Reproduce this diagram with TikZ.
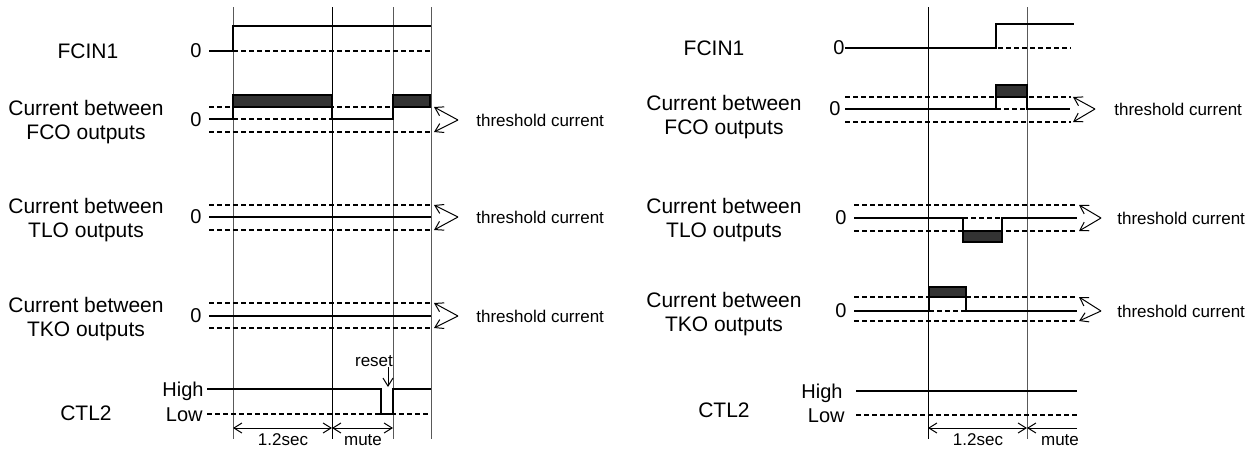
\documentclass[tikz,border=0pt]{standalone}
\usepackage{fontspec}
\setmainfont{Liberation Sans}
\usetikzlibrary{arrows.meta,positioning,calc}

\begin{document}
\begin{tikzpicture}[x=0.5pt, y=-0.5pt, >={Straight Barb[length=4pt,width=5pt]}]
    \tikzset{
        sig/.style={line width=1pt},
        ref/.style={line width=0.9pt, dash pattern=on 2.5pt off 1.5pt},
        grd/.style={line width=0.5pt, black!65},
        grdk/.style={line width=0.5pt},
        blk/.style={draw, line width=1pt, fill=black!80},
        a/.style={->, line width=0.5pt},
        dim/.style={<->, line width=0.5pt},
        lbl/.style={align=center, font={\fontsize{10.5}{12}\selectfont}, inner sep=0pt},
        lvl/.style={font={\fontsize{10}{12}\selectfont}, inner sep=0pt},
        sm/.style={font={\fontsize{8.5}{10}\selectfont}, inner sep=0pt}
    }

    \useasboundingbox (0,0) rectangle (1254,452);

    \begin{scope}
        \draw [grd] (233,7) -- (233,439);
        \draw [grdk] (332,7) -- (332,439);
        \draw [grd] (393,7) -- (393,439);
        \draw [grd] (431,7) -- (431,439);

        \node [lbl] (fcinL) at (88,51) {FCIN1};
        \node [lvl, anchor=east] (fcinLz) at (202,51) {0};
            \draw [ref] (233,51) -- (431,51);
            \draw [sig] (209,51) -- (233,51) -- (233,26) -- (431,26);

        \node [lbl] (fcoL) at (86,122) {Current between\\FCO outputs};
        \node [lvl, anchor=east] (fcoLz) at (202,120) {0};
            \draw [ref] (209,107) -- (431,107);
            \draw [ref] (209,132) -- (431,132);
            \draw [ref] (233,119) -- (393,119);
            \draw [blk] (233,95) rectangle (332,107);
            \draw [blk] (393,95) rectangle (430,107);
            \draw [sig] (209,119) -- (233,119) -- (233,95) -- (332,95) -- (332,119) -- (393,119) -- (393,95) -- (430,95);

            \coordinate (fcoLa) at (458,120);
            \coordinate (fcoLhi) at (434,107);
            \coordinate (fcoLlo) at (434,132);
            \draw [a] (fcoLa) -- (fcoLhi);
            \draw [a] (fcoLa) -- (fcoLlo);
        \node [sm, anchor=west] (fcoLt) at (476,120) {threshold current};

        \node [lbl] (tloL) at (86,220) {Current between\\TLO outputs};
        \node [lvl, anchor=east] (tloLz) at (202,217) {0};
            \draw [ref] (209,205) -- (431,205);
            \draw [ref] (209,230) -- (431,230);
            \draw [sig] (209,217) -- (431,217);

            \coordinate (tloLa) at (458,217);
            \coordinate (tloLhi) at (434,205);
            \coordinate (tloLlo) at (434,230);
            \draw [a] (tloLa) -- (tloLhi);
            \draw [a] (tloLa) -- (tloLlo);
        \node [sm, anchor=west] (tloLt) at (476,217) {threshold current};

        \node [lbl] (tkoL) at (86,319) {Current between\\TKO outputs};
        \node [lvl, anchor=east] (tkoLz) at (202,316) {0};
            \draw [ref] (209,303) -- (431,303);
            \draw [ref] (209,328) -- (431,328);
            \draw [sig] (209,316) -- (431,316);

            \coordinate (tkoLa) at (458,316);
            \coordinate (tkoLhi) at (434,303);
            \coordinate (tkoLlo) at (434,328);
            \draw [a] (tkoLa) -- (tkoLhi);
            \draw [a] (tkoLa) -- (tkoLlo);
        \node [sm, anchor=west] (tkoLt) at (476,316) {threshold current};

        \node [lbl] (ctlL) at (86,413) {CTL2};
        \node [lvl, anchor=base east] (ctlLhi) at (204,396) {High};
        \node [lvl, anchor=base east] (ctlLlo) at (203,421) {Low};
            \draw [ref] (207,414) -- (431,414);
            \draw [sig] (207,389) -- (381,389) -- (381,414) -- (393,414) -- (393,389) -- (431,389);

        \node [sm] (rstL) at (374,361) {reset};
            \coordinate (rstLtip) at (388,387);
            \draw [a] (rstL.south -| rstLtip) -- (rstLtip);

            \coordinate (d0L) at (233,428);
            \coordinate (d1L) at (332,428);
            \coordinate (d2L) at (393,428);
            \draw [dim] (d0L) -- (d1L);
            \draw [dim] (d1L) -- (d2L);
        \node [sm] (secL) at (283,440) {1.2sec};
        \node [sm] (muteL) at (363,440) {mute};
    \end{scope}

    \begin{scope}
        \draw [grdk] (928,7) -- (928,439);
        \draw [grd] (1027,7) -- (1027,439);

        \node [lbl] (fcinR) at (714,48) {FCIN1};
        \node [lvl, anchor=east] (fcinRz) at (845,48) {0};
            \draw [ref] (870,48) -- (1071,48);
            \draw [sig] (845,48) -- (996,48) -- (996,24) -- (1074,24);

        \node [lbl] (fcoR) at (724,117.5) {Current between\\FCO outputs};
        \node [lvl, anchor=east] (fcoRz) at (841,109) {0};
            \draw [ref] (845,97) -- (1071,97);
            \draw [ref] (845,122) -- (1071,122);
            \draw [ref] (996,109) -- (1027,109);
            \draw [blk] (996,85) rectangle (1027,97);
            \draw [sig] (845,109) -- (996,109) -- (996,85) -- (1027,85) -- (1027,109) -- (1070,109);

            \coordinate (fcoRa) at (1095,109);
            \coordinate (fcoRhi) at (1073,97);
            \coordinate (fcoRlo) at (1073,122);
            \draw [a] (fcoRa) -- (fcoRhi);
            \draw [a] (fcoRa) -- (fcoRlo);
        \node [sm, anchor=west] (fcoRt) at (1114,109) {threshold current};

        \node [lbl] (tloR) at (724,220.5) {Current between\\TLO outputs};
        \node [lvl, anchor=east] (tloRz) at (847,218) {0};
            \draw [ref] (854,205) -- (1077,205);
            \draw [ref] (854,231) -- (1077,231);
            \draw [ref] (963,218) -- (1002,218);
            \draw [blk] (963,231) rectangle (1002,242);
            \draw [sig] (854,218) -- (963,218) -- (963,242) -- (1002,242) -- (1002,218) -- (1077,218);

            \coordinate (tloRa) at (1101,218);
            \coordinate (tloRhi) at (1079,205);
            \coordinate (tloRlo) at (1079,231);
            \draw [a] (tloRa) -- (tloRhi);
            \draw [a] (tloRa) -- (tloRlo);
        \node [sm, anchor=west] (tloRt) at (1117,218) {threshold current};

        \node [lbl] (tkoR) at (724,314) {Current between\\TKO outputs};
        \node [lvl, anchor=east] (tkoRz) at (847,311) {0};
            \draw [ref] (854,297) -- (1077,297);
            \draw [ref] (854,321) -- (1077,321);
            \draw [ref] (929,311) -- (966,311);
            \draw [blk] (929,287) rectangle (966,297);
            \draw [sig] (854,311) -- (929,311) -- (929,287) -- (966,287) -- (966,311) -- (1077,311);

            \coordinate (tkoRa) at (1101,311);
            \coordinate (tkoRhi) at (1079,297);
            \coordinate (tkoRlo) at (1079,321);
            \draw [a] (tkoRa) -- (tkoRhi);
            \draw [a] (tkoRa) -- (tkoRlo);
        \node [sm, anchor=west] (tkoRt) at (1117,311) {threshold current};

        \node [lbl] (ctlR) at (724,410) {CTL2};
        \node [lvl, anchor=base east] (ctlRhi) at (843,398) {High};
        \node [lvl, anchor=base east] (ctlRlo) at (845,422) {Low};
            \draw [sig] (856,391) -- (1077,391);
            \draw [ref] (856,415) -- (1077,415);

            \coordinate (d0R) at (928,428);
            \coordinate (d1R) at (1027,428);
            \coordinate (d2R) at (1077,428);
            \draw [dim] (d0R) -- (d1R);
            \draw [a] (d2R) -- (d1R);
        \node [sm] (secR) at (978,440) {1.2sec};
        \node [sm] (muteR) at (1060,440) {mute};
    \end{scope}
\end{tikzpicture}
\end{document}
